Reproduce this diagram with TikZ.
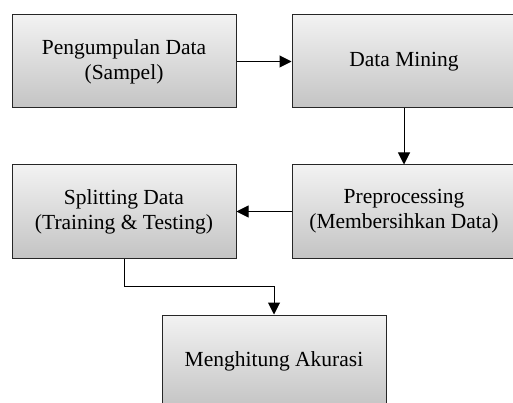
\documentclass[tikz,border=0pt]{standalone}
\usepackage{fontspec}
\setmainfont{Liberation Serif}
\usetikzlibrary{positioning,arrows.meta}
\definecolor{boxtop}{HTML}{F2F2F2}
\definecolor{boxbot}{HTML}{C4C4C4}

\begin{document}
\begin{tikzpicture}[node distance = {55pt}, main/.style = {draw=black!85, line width=1pt, rectangle, minimum width=224pt, minimum height=93pt, align=center, top color=boxtop, bottom color=boxbot, font=\fontsize{21.5}{25}\selectfont}, arr/.style = {line width=1pt, -{Triangle[length=12pt,width=12pt]}}]
	\useasboundingbox (0,0) rectangle (513pt,-403pt);
	\clip (0,0) rectangle (513pt,-403pt);
	\node[main] (1) at (124pt,-61.5pt) {Pengumpulan Data\\(Sampel)};
	\node[main] (2) [right=55pt of 1] {Data Mining};
	\node[main] (3) [below=56pt of 2] {Preprocessing\\(Membersihkan Data)};
	\node[main] (4) [left=55pt of 3] {Splitting Data\\(Training \& Testing)};
	\node[main] (5) [below=56pt of 4, xshift=150pt] {Menghitung Akurasi};
	\coordinate (t) at ([yshift=28pt]5.north);
	\draw[arr] (1) -- (2);
	\draw[arr] (2) -- (3);
	\draw[arr] (3) -- (4);
	\draw[arr] (4) |- (t) -- (5);
\end{tikzpicture}
\end{document}
